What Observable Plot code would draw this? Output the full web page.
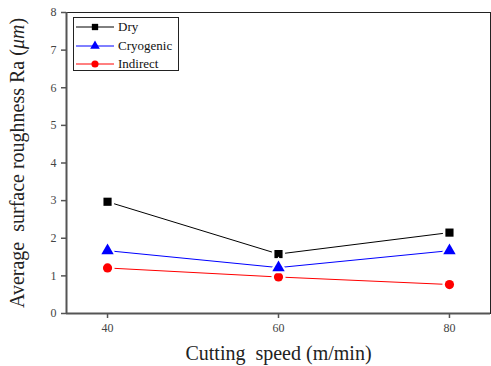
<!DOCTYPE html>
<html><head><meta charset="utf-8">
<script src="https://cdn.jsdelivr.net/npm/d3@7"></script>
<script src="https://cdn.jsdelivr.net/npm/@observablehq/plot@0.6"></script>
<style>
body{margin:0;background:#fff;}
#wrap{position:relative;width:491px;height:366px;font-family:"Liberation Serif","Times New Roman","DejaVu Serif",serif;}
#wrap svg text{font-family:"Liberation Serif","Times New Roman","DejaVu Serif",serif;}
#legend{position:absolute;left:73px;top:17px;width:106px;height:54px;border:1px solid #222;background:#fff;box-sizing:border-box;}
.row{position:absolute;left:0;height:18px;display:flex;align-items:center;font-size:13px;color:#111;}
.row svg{margin-left:2px;margin-right:4px;}
</style>
</head><body>
<div id="wrap"></div>
<script>
const speeds = [40, 60, 80];
const dry = [2.97, 1.58, 2.15];
const cryogenic = [1.67, 1.22, 1.67];
const indirect = [1.21, 0.97, 0.77];
const seriesNames = ["Dry", "Cryogenic", "Indirect"];
const seriesColors = ["#000000", "#0000ff", "#ff0000"];
const seriesSymbols = ["square", "triangle", "circle"];
const xTicks = [40, 60, 80];
const yTicks = [0, 1, 2, 3, 4, 5, 6, 7, 8];

const valuesBySeries = [dry, cryogenic, indirect];
const rows = [];
seriesNames.forEach((s, i) => speeds.forEach((x, j) => rows.push({series: s, speed: x, ra: valuesBySeries[i][j]})));

const FONT = "Liberation Serif, Times New Roman, DejaVu Serif, serif";
const plot = Plot.plot({
  width: 491, height: 366,
  marginLeft: 66, marginRight: 1, marginTop: 12, marginBottom: 53,
  style: {fontFamily: FONT, background: "#fff", overflow: "visible"},
  x: {domain: [35.2, 84.8]},
  y: {domain: [0, 8]},
  color: {domain: seriesNames, range: seriesColors},
  symbol: {domain: seriesNames, range: seriesSymbols},
  marks: [
    Plot.frame({stroke: "#222", strokeWidth: 1}),
    Plot.lineY(rows, {x: "speed", y: "ra", z: "series", stroke: "series", strokeWidth: 1}),
    Plot.dot(rows.filter(d => d.series !== "Cryogenic"), {x: "speed", y: "ra", symbol: "series", fill: "series", stroke: "white", strokeWidth: 5, paintOrder: "stroke", r: 4.6}),
    Plot.dot(rows.filter(d => d.series === "Cryogenic"), {x: "speed", y: "ra", symbol: "series", fill: "series", stroke: "white", strokeWidth: 4, paintOrder: "stroke", r: 4.6}),
    Plot.axisX({ticks: xTicks, tickSize: 5, tickPadding: 5, fontSize: 12, stroke: "#555", color: "#444", label: null, strokeWidth: 1.5}),
    Plot.axisY({ticks: yTicks, tickSize: 5, tickPadding: 5, fontSize: 12, stroke: "#555", color: "#444", label: null, strokeWidth: 1.5}),
    Plot.ruleX([35.2], {stroke: "#555", strokeWidth: 2}),
    Plot.ruleY([0], {stroke: "#555", strokeWidth: 2}),
    Plot.text(["Cutting  speed (m/min)"], {frameAnchor: "bottom", dy: 46, fontSize: 20, fill: "#222", text: d => d, lineAnchor: "bottom"})
  ]
});

const svg = d3.select(plot);
const yl = svg.append("text")
  .attr("transform", "translate(24,163) rotate(-90)")
  .attr("text-anchor", "middle")
  .attr("font-size", 20)
  .attr("fill", "#222")
  .style("white-space", "pre");
yl.append("tspan").text("Average  surface roughness Ra (");
yl.append("tspan").attr("font-style", "italic").text("μm");
yl.append("tspan").text(")");

const wrap = document.getElementById("wrap");
wrap.appendChild(plot);

const legend = document.createElement("div");
legend.id = "legend";
const ys = [0, 18.5, 37];
seriesNames.forEach((s, i) => {
  const row = document.createElement("div");
  row.className = "row";
  row.style.top = ys[i] + "px";
  const sym = d3.create("svg").attr("width", 38).attr("height", 14);
  sym.append("line").attr("x1", 0).attr("x2", 38).attr("y1", 7).attr("y2", 7).attr("stroke", seriesColors[i]).attr("stroke-width", 1);
  const symbolType = [d3.symbolSquare, d3.symbolTriangle, d3.symbolCircle][i];
  sym.append("path").attr("transform", "translate(19,7)").attr("d", d3.symbol(symbolType, [40, 40, 40][i])()).attr("fill", seriesColors[i]);
  row.appendChild(sym.node());
  const t = document.createElement("span");
  t.textContent = s;
  row.appendChild(t);
  legend.appendChild(row);
});
wrap.appendChild(legend);
</script>
</body></html>
